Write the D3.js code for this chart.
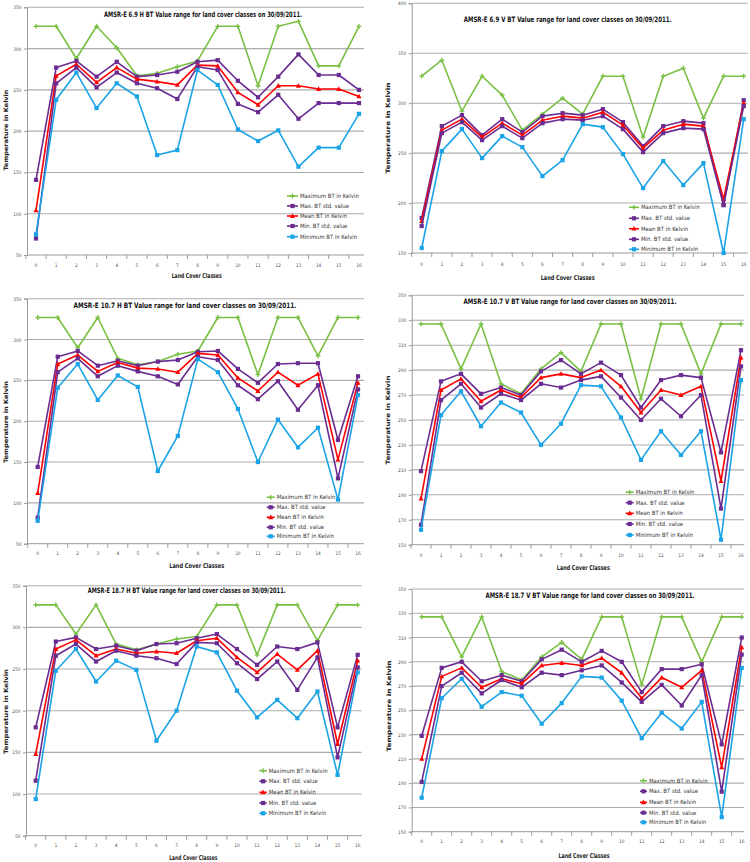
<!DOCTYPE html>
<html><head><meta charset="utf-8">
<script src="https://cdn.jsdelivr.net/npm/d3@7"></script>
<style>body{margin:0;background:#fff}svg{display:block}</style>
</head><body><svg id="c" width="750" height="862"></svg>
<script>
// ---------- DATA ----------
const classes = d3.range(17);
const seriesNames = ["Maximum BT in Kelvin","Max. BT std. value","Mean BT in Kelvin","Min. BT std. value","Minimum BT in Kelvin"];
const titles = [
  "AMSR-E 6.9 H BT Value range for land cover classes on 30/09/2011.",
  "AMSR-E 6.9 V BT Value range for land cover classes on 30/09/2011.",
  "AMSR-E 10.7 H BT Value range for land cover classes on 30/09/2011.",
  "AMSR-E 10.7 V BT Value range for land cover classes on 30/09/2011.",
  "AMSR-E 18.7 H BT Value range for land cover classes on 30/09/2011.",
  "AMSR-E 18.7 V BT Value range for land cover classes on 30/09/2011."
];
const xTitle = "Land Cover Classes";
const yTitle = "Temperature in Kelvin";
const ticksA = [50,100,150,200,250,300,350];
const ticksB = [150,200,250,300,350,400];
const ticksC = [150,170,190,210,230,250,270,290,310,330,350];

// 6.9 H
const h69Max    = [327,327,288,327,301,267,270,278,285,327,327,255,327,333,279,279,327];
const h69MaxStd = [141,277,285,266,284,266,268,272,284,286,261,241,266,293,268,268,250];
const h69Mean   = [104,267,281,259,277,263,260,256,280,279,247,232,255,255,251,251,242];
const h69MinStd = [70,258,277,253,271,258,252,239,278,274,233,223,244,215,234,234,234];
const h69Min    = [75,238,271,228,258,242,171,177,274,256,202,188,201,157,180,180,221];
// 6.9 V
const v69Max    = [327,343,292,327,308,273,289,305,289,327,327,266,327,335,285,327,327];
const v69MaxStd = [185,277,288,268,284,271,287,290,288,294,281,257,277,282,280,198,303];
const v69Mean   = [182,273,284,266,280,268,283,287,285,291,278,255,273,279,277,204,300];
const v69MinStd = [177,270,281,263,277,265,280,284,283,287,274,251,270,275,274,198,297];
const v69Min    = [155,252,274,245,267,256,227,243,279,276,249,215,242,218,240,150,284];
// 10.7 H
const h107Max    = [327,327,290,327,277,269,273,282,286,327,327,257,327,327,280,327,327];
const h107MaxStd = [144,279,286,268,274,268,273,275,285,286,264,247,270,271,271,177,255];
const h107Mean   = [112,270,281,261,272,265,264,260,283,281,253,237,260,244,258,153,247];
const h107MinStd = [82,260,277,255,268,261,255,245,279,275,244,227,249,214,244,130,239];
const h107Min    = [78,241,270,226,256,242,139,182,276,260,215,150,202,168,192,104,232];
// 10.7 V
const v107Max    = [327,327,291,327,279,271,291,304,289,327,327,267,327,327,287,327,327];
const v107MaxStd = [209,281,287,271,276,270,289,298,287,296,286,260,282,286,284,224,306];
const v107Mean   = [187,274,283,265,274,268,284,287,284,290,277,256,274,270,277,201,300];
const v107MinStd = [166,266,279,260,271,266,279,276,282,285,268,250,267,253,270,179,293];
const v107Min    = [162,254,273,245,264,256,230,247,278,277,252,218,241,222,241,154,282];
// 18.7 H
const h187Max    = [327,327,292,327,280,273,280,286,289,327,327,267,327,327,284,327,327];
const h187MaxStd = [180,283,288,274,278,272,280,281,287,292,274,255,277,274,282,180,267];
const h187Mean   = [148,274,285,266,274,269,271,269,284,287,264,246,268,249,272,160,260];
const h187MinStd = [116,266,280,259,272,266,263,256,282,281,257,238,259,225,264,144,252];
const h187Min    = [94,248,274,235,260,249,164,200,277,270,224,192,213,191,223,123,246];
// 18.7 V
const v187Max    = [327,327,294,327,282,275,294,306,292,327,327,271,327,327,290,327,327];
const v187MaxStd = [229,285,290,274,279,274,292,300,290,299,290,265,284,284,288,222,310];
const v187Mean   = [210,278,285,269,276,272,287,289,287,293,281,260,277,269,283,203,302];
const v187MinStd = [191,270,281,264,275,269,281,279,283,287,273,257,271,254,279,183,296];
const v187Min    = [178,260,276,253,265,262,239,256,278,277,258,227,248,235,257,162,285];

// ---------- LAYOUT ----------
const colors = ["#78c043","#6a2c91","#ff0000","#6a2c91","#1aa3e6"];
const markers = ["plus","square","triangle","square","square"];

const panels = [
  {series:[h69Max,h69MaxStd,h69Mean,h69MinStd,h69Min], title:titles[0], ticks:ticksA,
   left:27, right:364, yTop:7.3, yBot:255, x0:36, x16:359,
   tx:203, ty:17, tw:198, xly:266.5, xtx:196.7, xty:278, xtw:50, ylx:6, yly:130, ylw:81,
   lgx:287, lgy:[196,206,216,226,236.7], lgw:11},
  {series:[v69Max,v69MaxStd,v69Mean,v69MinStd,v69Min], title:titles[1], ticks:ticksB,
   left:411.7, right:747.7, yTop:3.3, yBot:253, x0:421.7, x16:743.7,
   tx:567.7, ty:22, tw:208, xly:265.5, xtx:567.7, xty:279.5, xtw:54, ylx:388, yly:128, ylw:91,
   lgx:629, lgy:[207.3,218.3,228.7,239.3,249.3], lgw:10},
  {series:[h107Max,h107MaxStd,h107Mean,h107MinStd,h107Min], title:titles[2], ticks:ticksA,
   left:27, right:364, yTop:298.7, yBot:543.7, x0:37.7, x16:358,
   tx:185, ty:307.8, tw:223, xly:554.5, xtx:196.7, xty:567.5, xtw:55, ylx:6, yly:422, ylw:82,
   lgx:266.7, lgy:[497.3,507.3,517.3,527.3,536.3], lgw:8},
  {series:[v107Max,v107MaxStd,v107Mean,v107MinStd,v107Min], title:titles[3], ticks:ticksC,
   left:411.7, right:744.3, yTop:295.3, yBot:544.7, x0:421, x16:741,
   tx:570, ty:303.5, tw:213, xly:557, xtx:583.3, xty:570, xtw:53, ylx:388, yly:420, ylw:89,
   lgx:625.7, lgy:[492.3,502.7,513.3,524,535], lgw:8},
  {series:[h187Max,h187MaxStd,h187Mean,h187MinStd,h187Min], title:titles[4], ticks:ticksA,
   left:26, right:361.7, yTop:585.7, yBot:835.7, x0:35.7, x16:357.7,
   tx:186.7, ty:593, tw:198, xly:846.5, xtx:193.3, xty:860, xtw:48, ylx:6, yly:711.5, ylw:85,
   lgx:259.3, lgy:[770.7,781.3,792.3,803,813.3], lgw:7.5},
  {series:[v187Max,v187MaxStd,v187Mean,v187MinStd,v187Min], title:titles[5], ticks:ticksC,
   left:411.7, right:744.3, yTop:589, yBot:831.7, x0:421.7, x16:741.7,
   tx:590, ty:598, tw:209, xly:843, xtx:584, xty:857.5, xtw:51, ylx:389, yly:706, ylw:91,
   lgx:640, lgy:[780.7,791.3,802.3,812.7,822.3], lgw:7}
];

const svg = d3.select("#c");
const FONT = "'Liberation Sans Narrow','DejaVu Sans Condensed','Arial Narrow',sans-serif";

function drawMarker(g, type, x, y, color){
  if(type==="square"){
    g.append("rect").attr("x",x-2.1).attr("y",y-2.1).attr("width",4.2).attr("height",4.2).attr("fill",color);
  } else if(type==="triangle"){
    g.append("path").attr("d",`M${x},${y-2.7}L${x+2.5},${y+1.9}L${x-2.5},${y+1.9}Z`).attr("fill",color);
  } else {
    g.append("path").attr("d",`M${x-2.4},${y}H${x+2.4}M${x},${y-2.4}V${y+2.4}`).attr("stroke",color).attr("stroke-width",1.3);
  }
}

panels.forEach(p=>{
  const g = svg.append("g");
  const ticks = p.ticks;
  const y = d3.scaleLinear().domain([d3.min(ticks), d3.max(ticks)]).range([p.yBot, p.yTop]);
  const x = d3.scalePoint().domain(classes).range([p.x0, p.x16]);
  const step = x.step();

  // gridlines
  g.append("g").selectAll("line").data(ticks.slice(1)).join("line")
    .attr("x1",p.left).attr("x2",p.right)
    .attr("y1",d=>y(d)).attr("y2",d=>y(d))
    .attr("stroke","#acacac").attr("stroke-width",1.1);

  // y axis
  const ya = g.append("g").attr("transform",`translate(${p.left},0)`)
    .call(d3.axisLeft(y).tickValues(ticks).tickSize(3).tickFormat(d3.format("d")));
  ya.select(".domain").attr("stroke","#9a9a9a");
  ya.selectAll(".tick line").attr("stroke","#9a9a9a");
  ya.selectAll("text").attr("font-family",FONT).attr("font-size",4.8).attr("fill","#555").attr("x",-5.5);

  // x axis
  g.append("line").attr("x1",p.left).attr("x2",p.right).attr("y1",p.yBot).attr("y2",p.yBot)
    .attr("stroke","#9a9a9a");
  const bounds = d3.range(18).map(i=> p.x0 - step/2 + i*step).filter(v=>v<=p.right+1);
  g.append("g").selectAll("line").data(bounds).join("line")
    .attr("x1",d=>d).attr("x2",d=>d).attr("y1",p.yBot).attr("y2",p.yBot+4)
    .attr("stroke","#9a9a9a");
  g.append("g").selectAll("text").data(classes).join("text")
    .attr("x",d=>x(d)).attr("y",p.xly).attr("text-anchor","middle")
    .attr("font-family",FONT).attr("font-size",4.8).attr("fill","#555").text(d=>d);

  // titles
  g.append("text").attr("x",p.tx).attr("y",p.ty).attr("text-anchor","middle")
    .attr("font-family",FONT).attr("font-weight","bold").attr("font-size",7.4).attr("fill","#111")
    .attr("textLength",p.tw).attr("lengthAdjust","spacingAndGlyphs").text(p.title);
  g.append("text").attr("x",p.xtx).attr("y",p.xty).attr("text-anchor","middle")
    .attr("font-family",FONT).attr("font-weight","bold").attr("font-size",6.6).attr("fill","#222")
    .attr("textLength",p.xtw).attr("lengthAdjust","spacingAndGlyphs").text(xTitle);
  g.append("text").attr("transform",`translate(${p.ylx},${p.yly}) rotate(-90)`).attr("text-anchor","middle")
    .attr("dy","0.35em")
    .attr("font-family","'DejaVu Sans',sans-serif").attr("font-weight","bold").attr("font-size",6).attr("fill","#222")
    .attr("textLength",p.ylw).attr("lengthAdjust","spacingAndGlyphs").text(yTitle);

  // series
  const line = d3.line().x((d,i)=>x(i)).y(d=>y(d));
  p.series.forEach((s,k)=>{
    const sg = g.append("g");
    sg.append("path").attr("d",line(s)).attr("fill","none").attr("stroke",colors[k]).attr("stroke-width",1.6)
      .attr("stroke-linejoin","round");
    s.forEach((v,i)=>drawMarker(sg, markers[k], x(i), y(v), colors[k]));
  });

  // legend
  const lg = g.append("g");
  seriesNames.forEach((n,k)=>{
    const ly = p.lgy[k];
    lg.append("line").attr("x1",p.lgx).attr("x2",p.lgx+p.lgw).attr("y1",ly).attr("y2",ly)
      .attr("stroke",colors[k]).attr("stroke-width",1.6);
    drawMarker(lg, markers[k], p.lgx+p.lgw/2, ly, colors[k]);
    lg.append("text").attr("x",p.lgx+p.lgw+2).attr("y",ly).attr("dy","0.35em")
      .attr("font-family",FONT).attr("font-size",5.9).attr("fill","#333").text(n);
  });
});
</script></body></html>
